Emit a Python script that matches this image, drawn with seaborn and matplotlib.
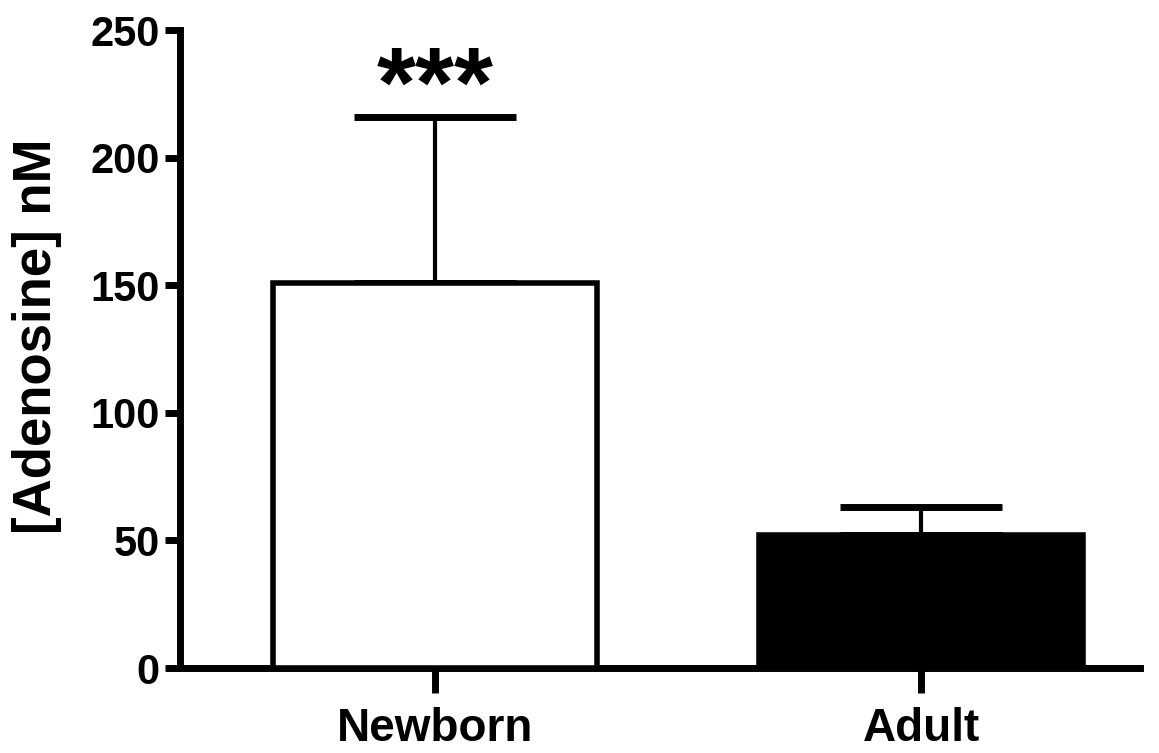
import matplotlib
matplotlib.use("Agg")
import matplotlib.pyplot as plt
import seaborn as sns

# donnees
groupes = ["Newborn", "Adult"]
moyennes = [151, 52]
erreurs = [65, 11]
couleurs = ["white", "black"]

sns.set_style("ticks")
plt.rcParams["font.family"] = ["Liberation Sans", "DejaVu Sans"]
plt.rcParams["font.weight"] = "bold"
for k in ["text.color", "axes.labelcolor", "xtick.color", "ytick.color"]:
    plt.rcParams[k] = "black"

fig = plt.figure(figsize=(11.59, 7.53), dpi=100)
ax = fig.add_axes([180 / 1159, 85 / 753, 960 / 1159, 638 / 753])

sns.barplot(x=groupes, y=moyennes, hue=groupes, palette=couleurs, width=0.667,
            edgecolor="black", linewidth=4, legend=False, ax=ax, zorder=3)

# barres d'erreur (seulement vers le haut)
ax.errorbar(x=range(len(groupes)), y=moyennes, yerr=[[0, 0], erreurs], fmt="none",
            ecolor="black", elinewidth=3, capsize=58, capthick=5, zorder=2)

# significativite
ax.text(0, 208, "***", ha="center", va="bottom", fontsize=72, fontweight="bold")

ax.set_ylim(0, 250)
ax.set_xlim(-0.525, 1.45)
ax.set_yticks([0, 50, 100, 150, 200, 250])
ax.set_ylabel("[Adenosine] nM", fontsize=38, fontweight="bold")
ax.yaxis.set_label_coords(-0.123, 0.52)
ax.set_xlabel("")
ax.tick_params(axis="y", labelsize=30, width=5, length=11)
ax.tick_params(axis="x", labelsize=33, width=5, length=18, pad=10)
for lab in ax.get_xticklabels() + ax.get_yticklabels():
    lab.set_fontweight("bold")
for s in ["left", "bottom"]:
    ax.spines[s].set_linewidth(5)
    ax.spines[s].set_color("black")
sns.despine(ax=ax)

fig.savefig("out.png", dpi=100)
